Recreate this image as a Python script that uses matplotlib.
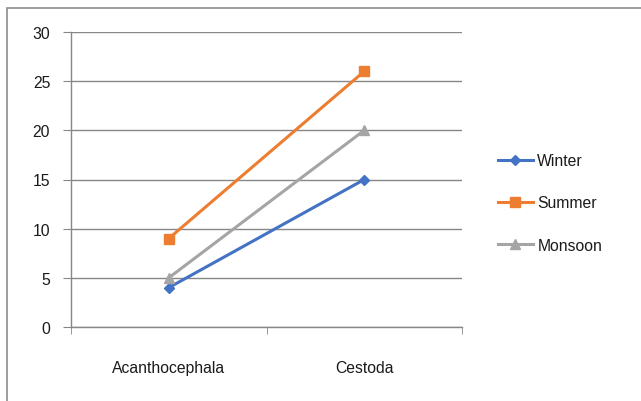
import matplotlib
matplotlib.use("Agg")
import matplotlib.pyplot as plt
from matplotlib.patches import Rectangle

categories = ["Acanthocephala", "Cestoda"]
winter = [4, 15]
summer = [9, 26]
monsoon = [5, 20]
series_names = ["Winter", "Summer", "Monsoon"]
yticks = [0, 5, 10, 15, 20, 25, 30]

plt.rcParams['font.family'] = ['Liberation Sans', 'DejaVu Sans']

W, H = 641, 402
fig = plt.figure(figsize=(W/100, H/100), dpi=100)
fig.patch.set_facecolor('white')

# outer chart border
fig.add_artist(Rectangle((7/W, -0.05), 1.2, (H-9)/H + 0.05, transform=fig.transFigure,
                         fill=False, edgecolor='#8c8c8c', linewidth=1.2))

left, right, top, bottom = 71, 462, 33, 328
ax = fig.add_axes([left/W, 1 - bottom/H, (right-left)/W, (bottom-top)/H])

x = list(range(len(categories)))
grid_c = '#878787'
txt_c = '#1a1a1a'
fs = 11.3
ax.plot(x, winter, color='#4472C4', marker='D', markersize=5.5, linewidth=2.2, label=series_names[0])
ax.plot(x, summer, color='#ED7D31', marker='s', markersize=7.5, linewidth=2.2, label=series_names[1])
ax.plot(x, monsoon, color='#A5A5A5', marker='^', markersize=7.5, linewidth=2.2, label=series_names[2])

ax.set_xlim(-0.5, len(categories) - 0.5)
ax.set_ylim(0, 30)
ax.set_yticks(yticks)
ax.set_yticklabels([str(v) for v in yticks], fontsize=fs, color=txt_c)
ax.set_xticks(x)
ax.set_xticklabels(categories, fontsize=fs, color=txt_c)
ax.set_xticks([-0.5, 0.5, 1.5], minor=True)
ax.tick_params(axis='x', which='major', length=0, pad=24)
ax.tick_params(axis='x', which='minor', length=5, color=grid_c, direction='out')
ax.tick_params(axis='y', length=6, color=grid_c, direction='out', pad=9)
ax.yaxis.grid(True, color=grid_c, linewidth=1.0)
ax.set_axisbelow(True)
for s in ['top', 'right']:
    ax.spines[s].set_visible(False)
for s in ['left', 'bottom']:
    ax.spines[s].set_color(grid_c)
    ax.spines[s].set_linewidth(1.0)

leg = fig.legend(loc='center left', bbox_to_anchor=(484/W, 1 - 204/H), frameon=False,
                 fontsize=fs, handlelength=2.2, labelspacing=1.75, handletextpad=0.3)
for t in leg.get_texts():
    t.set_color(txt_c)

fig.savefig('out.png', dpi=100, facecolor='white')
